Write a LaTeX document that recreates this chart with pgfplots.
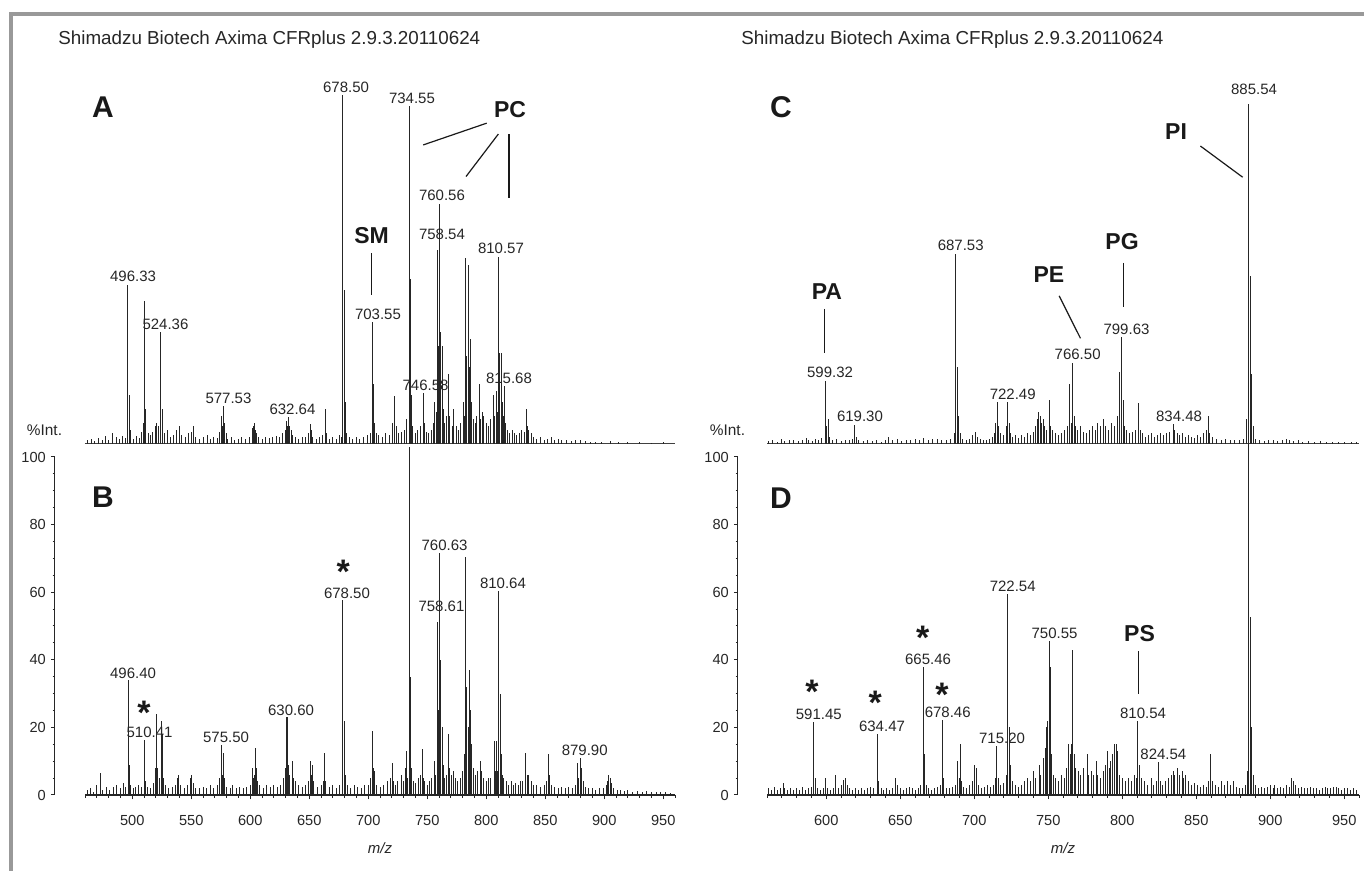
\documentclass[border=0pt]{standalone}
\usepackage{fontspec}
\setmainfont{Liberation Sans}
\usepackage{pgfplots}
\pgfplotsset{compat=1.18}
\pgfplotsset{
  spec/.style={scale only axis, clip=false, ymin=0, ymax=100, anchor=south west},
  pk/.style={ycomb, no markers, black!85, line width=0.45pt},
  yax/.style={scale only axis, anchor=south west, width=1pt, height=169pt,
    xmin=0, xmax=1, ymin=0, ymax=100, axis x line=none, axis y line*=left,
    ytick={0,20,...,100}, minor ytick={0,5,...,100}, tick align=outside,
    major tick length=1.8pt, minor tick length=1pt,
    axis line style={black!85, line width=0.6pt}, tick style={black!85, line width=0.5pt},
    /pgf/number format/assume math mode=true,
    yticklabel style={font=\fontsize{7.3}{8}\selectfont, text=black!85, xshift=1pt}},
  xax/.style={axis x line*=bottom, axis y line=none, tick align=outside,
    major tick length=2.2pt, minor tick length=1.5pt,
    axis line style={black!85, line width=0.7pt}, tick style={black!85, line width=0.5pt},
    /pgf/number format/assume math mode=true, xticklabel shift=4.5pt,
    xticklabel style={font=\fontsize{7.3}{8}\selectfont, text=black!85}},
}
\tikzset{
  lbl/.style={font=\fontsize{7.5}{8}\selectfont, inner sep=0pt, text=black!85},
  big/.style={font=\fontsize{15}{16}\selectfont\bfseries, inner sep=0pt, text=black!90},
  cls/.style={font=\fontsize{11.5}{12}\selectfont\bfseries, inner sep=0pt, text=black!90},
  star/.style={font=\fontsize{17}{18}\selectfont\bfseries, inner sep=0pt, text=black!90, yshift=-2.5pt},
  ann/.style={black!90, line width=0.6pt},
}
\begin{document}
\begin{tikzpicture}
\path[use as bounding box] (0,0) rectangle (682pt,435.5pt);
\draw[black!40, line width=2pt] (5.25pt,0pt) -- (5.25pt,428.6pt) -- (682pt,428.6pt);
\node[anchor=west, inner sep=0pt, font=\fontsize{9.4}{11}\selectfont, text=black!85] at (29pt,415.5pt) {Shimadzu Biotech Axima CFRplus 2.9.3.20110624};
\node[anchor=west, inner sep=0pt, font=\fontsize{9.4}{11}\selectfont, text=black!85] at (370.5pt,415.5pt) {Shimadzu Biotech Axima CFRplus 2.9.3.20110624};
\node[font=\fontsize{7.7}{8}\selectfont, text=black!85] at (22.25pt,220.5pt) {\%Int.};
\node[font=\fontsize{7.7}{8}\selectfont, text=black!85] at (363.75pt,220.5pt) {\%Int.};

% ---------------- Panel A ----------------
\begin{axis}[spec, at={(42.5pt,213.5pt)}, width=295pt, height=175.5pt, xmin=460, xmax=960, axis lines=none]
\addplot[black!75, line width=0.4pt] coordinates {(460,0.3) (960,0.3)};
\addplot[pk] coordinates {
(462,1.2) (465.5,1.5) (468,0.8) (471,1.6) (474.5,1.0) (477,2.2) (480,1.2) (483.5,3.2) (486.5,2.0) (489,1.4) (492,2.4) (494.5,1.8)
(496.33,45.3) (497.33,14) (498.3,4) (501,1.5) (503.5,2.3) (506,1.8) (507.6,3.5) (509.4,6) (510.4,40.7) (511.4,10)
(513.5,3) (515.5,2.5) (517.5,3.5) (519.5,5) (520.5,6) (522.3,5) (524.36,31.9) (525.36,10) (527,3) (529.5,4) (532,2)
(535,2.5) (537.6,4) (539.8,5) (542,2.5) (545,2) (548,3) (550.5,3.5) (551.8,5) (554,2) (557,1.5) (560,2) (563.5,2.5)
(566,1.5) (569,2) (572,1.8) (574,3.5) (575.5,8) (576.5,5) (577.53,10.8) (578.5,6) (579.5,3) (581,1.5) (584,2) (587,1.2)
(590,1.5) (593,2) (596,1.4) (599,2) (601.5,4.5) (602.5,5) (603.5,6) (604.5,4) (605.5,3) (607,2) (610,1.5) (613,2)
(616,1.7) (619,2) (622,2.3) (625,2) (627.5,3) (629.5,4) (630.6,6.5) (631.6,5) (632.64,7.7) (633.6,5) (634.6,4) (636,2.5)
(638,2) (641,1.5) (644,2) (647,2) (649.5,3) (650.7,5.7) (651.7,4) (653,2) (656,1.5) (659,2) (661.5,2.5) (663.4,10)
(664.4,3) (667,1.5) (670,2) (673,1.5) (675.5,2.5) (677,2) (678.5,99.4) (679.5,44) (680.5,12) (681.5,3) (684,2) (687,1.5)
(690,2) (693,1.5) (696,2) (699,2.5) (701.5,3) (703.55,34.8) (704.55,17) (705.55,6) (706.6,3) (709,2.5) (712,2) (715,3)
(718,2.5) (720.5,6) (722.6,13.7) (723.6,5) (725.5,3) (728,3.5) (730.5,4) (732.5,7) (734.55,96.3) (735.55,47) (736.55,14)
(737.6,5) (740,3) (742,4) (744.5,5) (746.58,14.5) (747.6,6) (749,3.5) (751,3) (753.5,4) (755,6) (756.5,12) (757.5,9)
(758.54,55.3) (759.55,28) (760.56,68.4) (761.56,32) (762.57,28) (763.57,10) (765,6) (766.5,8) (768.2,20) (769.2,8)
(771,5) (772.5,10) (774.5,5) (776.5,4) (778.5,6) (780.5,12) (781.5,8) (782.57,53) (783.58,25) (784.58,51) (785.59,22)
(786.6,30) (787.6,12) (789,7) (790.5,6) (792,8) (794,17) (795,7) (796.5,9) (798,8) (800,6) (802,5) (804,7) (805.8,14)
(807,8) (808.6,15) (809.6,9) (810.57,53.3) (811.57,26) (812.6,26) (813.6,12) (814.6,8) (815.68,16.5) (816.7,6) (818,4)
(820,3) (822,4) (824,3) (826,2.5) (828,3) (830,4) (832,3.5) (833.7,10) (834.7,5) (836,4) (838,3) (840,2) (843,1.5)
(846,2) (849,1.2) (852,1.5) (855,2) (858,1.2) (861,1.5) (864,1) (868,1.2) (872,0.8) (876,1) (880,1.2) (884,0.8)
(888,0.6) (893,0.7) (898,0.5) (905,0.8) (912,0.5) (920,0.6) (930,0.5) (940,0.4) (950,0.5)
};
\node[big] at (axis cs:475.3,96.0) {A};
\node[lbl] at (axis cs:681.2,101.7) {678.50};
\node[lbl] at (axis cs:737.1,98.6) {734.55};
\node[lbl] at (axis cs:762.5,70.7) {760.56};
\node[lbl] at (axis cs:762.5,59.8) {758.54};
\node[lbl] at (axis cs:812.5,55.6) {810.57};
\node[lbl] at (axis cs:708.3,36.8) {703.55};
\node[lbl] at (axis cs:748.6,16.8) {746.58};
\node[lbl] at (axis cs:819.3,18.8) {815.68};
\node[lbl] at (axis cs:500.7,47.9) {496.33};
\node[lbl] at (axis cs:528.2,34.2) {524.36};
\node[lbl] at (axis cs:581.6,13.1) {577.53};
\node[lbl] at (axis cs:635.8,10.0) {632.64};
\node[cls] at (axis cs:820.2,95.2) {PC};
\draw[ann] (axis cs:800.4,91.4) -- (axis cs:746.6,85.2);
\draw[ann] (axis cs:810.3,88.3) -- (axis cs:782.9,76.2);
\draw[ann] (axis cs:819.3,88.3) -- (axis cs:819.3,70.0);
\node[cls] at (axis cs:702.8,59.5) {SM};
\draw[ann] (axis cs:703,54.4) -- (axis cs:703,42.5);
\end{axis}

% ---------------- Panel B ----------------
\begin{axis}[yax, at={(27.25pt,38pt)}]
\addplot[draw=none] coordinates {(0,0)};
\end{axis}
\begin{axis}[spec, xax, at={(42.5pt,38pt)}, width=295pt, height=169pt, xmin=460, xmax=960,
  xtick={500,550,...,950}, minor xtick={460,470,...,960}]
\addplot[pk] coordinates {
(462,1.5) (465,2) (467,1) (470,3) (472.8,6.5) (475,1.5) (478,2.5) (481,1.5) (484,2.5) (487,3) (490,2) (492.5,3.5)
(494.5,2.5) (496.4,34) (497.4,9) (498.4,3) (501,2) (503,2.5) (505.5,3) (508,2.5) (510.41,16.3) (511.4,4) (513,2.5)
(515.5,2) (518,3.5) (519.7,8) (520.7,24) (521.7,8) (523,5) (524.4,22) (525.4,18) (526.4,5) (528,3) (531,2) (534,2.5)
(537,3) (538.5,5) (539.5,6) (541,3) (544,2) (547,3) (549,5) (550.3,6) (551.5,3.5) (554,2) (557,2) (560,2.5) (563,2)
(566,3) (569,2) (572,3) (574,5) (575.5,14.8) (576.5,6) (577.5,12.5) (578.5,5) (580,2.5) (583,2) (585,3) (588,2)
(591,2.5) (594,2) (597,2.5) (600,3) (601.7,8) (602.7,5) (603.7,6) (604.5,14) (605.5,8) (606.5,4) (608,3) (611,2)
(614,3) (617,2.5) (620,3) (623,2.5) (626,3) (628.5,5) (629.5,8) (630.6,23) (631.6,23) (632.6,9) (633.6,6) (635.7,10)
(636.7,5) (638.5,4) (641,3) (644,2.5) (647,3) (649.5,4) (650.7,10) (651.7,6) (653,9) (654,4) (657,2.5) (660,3)
(662,4) (663,12.5) (664,4) (667,2.5) (670,3) (673,2) (676,3) (678.5,57.7) (679.5,22) (680.5,6) (682,3) (685,2)
(688,3) (691,2.5) (694,2) (697,3) (700,3) (702,5) (703.5,19) (704.5,8) (705.5,7) (707,3) (710,2.5) (713,3) (716,4)
(718.5,5) (720.2,9.5) (721.2,4) (723,3) (725,4) (727.8,6) (730,4) (731.5,8) (732.4,13) (733.4,5) (734.55,103)
(735.55,35) (736.55,8) (738,4) (740,3.5) (742.5,5) (744.5,6) (745.6,13.6) (746.6,5) (748,4) (750,3) (752,4) (754,5)
(755.8,10) (756.8,6) (758.61,51.2) (759.6,25) (760.63,71.6) (761.6,40) (762.6,20) (763.6,9) (765,5) (766.5,6)
(768.2,18) (769.2,8) (770.5,6) (772,7) (774,5) (776,4) (778,5) (780,7) (781.5,12) (782.57,70.4) (783.4,32) (784.6,20)
(785.8,37) (786.8,25) (787.8,15) (789,8) (791,6) (792.5,7) (794.7,10) (796,7) (798,5) (800,4) (802,5) (804,5)
(806.6,16) (807.6,7) (808.3,16) (809.5,7) (810.64,60.4) (811.7,30) (812.7,12) (813.7,6) (815,5) (817,4) (819,3)
(821,4) (823,3) (825,3.5) (827,3) (829,4) (831,4) (833.6,12.5) (834.6,6) (836,6) (838,4) (840,3) (843,3) (846,2.5)
(849,3) (851,4) (852.4,12) (853.4,6) (855,3) (858,2.5) (861,2) (864,2.5) (867,2) (870,2.5) (873,2) (875.5,3)
(877,9.5) (878,5) (879.9,10.9) (880.9,8) (882,4) (884,2.5) (887,2) (890,2) (893,1.5) (896,2) (899,2) (901.5,3)
(903,4) (904,6) (905,5) (906.5,3.5) (908,2) (911,1.5) (914,1.5) (917,1.2) (920,1.5) (924,1) (928,1.2) (932,1)
(936,1.2) (940,0.8) (944,1) (948,0.8) (952,1) (956,0.7)
};
\node[big] at (axis cs:475.3,88.0) {B};
\node[lbl] at (axis cs:682.0,59.8) {678.50};
\node[lbl] at (axis cs:500.7,36.1) {496.40};
\node[lbl] at (axis cs:514.7,18.6) {510.41};
\node[lbl] at (axis cs:579.5,17.2) {575.50};
\node[lbl] at (axis cs:634.6,24.9) {630.60};
\node[lbl] at (axis cs:764.7,74.0) {760.63};
\node[lbl] at (axis cs:814.2,62.7) {810.64};
\node[lbl] at (axis cs:762.1,55.9) {758.61};
\node[lbl] at (axis cs:883.5,13.3) {879.90};
\node[star] at (axis cs:678.9,67.5) {*};
\node[star] at (axis cs:510,25.7) {*};
\node[font=\fontsize{7.5}{8}\selectfont\itshape, text=black!85] at (rel axis cs:0.5,0) [yshift=-26.5pt] {m/z};
\end{axis}

% ---------------- Panel C ----------------
\begin{axis}[spec, at={(383.5pt,213.5pt)}, width=296pt, height=175.5pt, xmin=560, xmax=960, axis lines=none]
\addplot[black!75, line width=0.4pt] coordinates {(560,0.3) (960,0.3)};
\addplot[pk] coordinates {
(561,0.8) (564,1) (567,0.7) (570,1.5) (572,0.8) (575,1) (578,1.2) (581,0.8) (584,1) (586.5,1.8) (588,1) (591,0.8)
(593,1.5) (595,1) (597,1.8) (599.32,18) (600.32,5) (601.3,7) (602.3,2) (604,1) (607,1.3) (610,0.8) (613,1) (616,1.2)
(617.5,1.5) (619.3,5.4) (620.3,2) (622,1) (625,0.8) (628,1) (631,0.8) (634,1) (637,0.7) (640,1.2) (642.3,2) (645,1)
(648,1.3) (651,0.8) (654,1) (657,1.2) (660,1.5) (663,1) (666,1.8) (669,1) (672,1.3) (675,1.5) (678,1.2) (681,1)
(684,1.5) (686.5,3) (687.53,54) (688.53,22) (689.5,8) (690.5,3) (692,1.5) (695,1) (697,1.5) (699,2.5) (700.8,3.4)
(702,2) (704,1.5) (706,1.2) (708,1) (710,1.5) (712,2) (713.5,3) (714.5,6) (715.5,12) (716.5,5) (718,3) (720,2.5)
(721.5,5) (722.49,12) (723.5,6) (724.5,3) (726,2) (728,2.5) (730,1.8) (732,2.5) (734,2) (736,3) (738,2.5) (740,3.5)
(741.5,5) (742.4,7) (743.6,9) (744.6,8) (745.6,6) (746.6,7) (747.6,5) (749,4) (750.7,12.5) (751.7,5) (753,4) (755,3)
(757,2.5) (759,3) (761,4) (763,5) (764.5,17) (765.5,6) (766.5,23) (767.5,8) (768.5,5) (770,4) (772,5) (774,3.5)
(776,3) (778,4) (780,5) (782,4) (783.6,6) (785,5) (787,7) (789,5) (791,4) (793,6) (795,5) (797,8) (798.2,20.5)
(799.63,30.5) (800.6,12.5) (801.6,5) (803,4) (805,3) (807,3.5) (809,4) (811.2,11.7) (812.2,4) (814,3) (816,2)
(818,2.5) (820,3) (822,2) (824,2.5) (826,3) (828,2.5) (830,3) (832,3.5) (834.48,5.7) (835.5,4) (837,3) (839,2.5)
(841,3) (843,2) (845,2.5) (847,2) (849,1.8) (851,2.5) (853,2) (855,3) (857,4) (858,8) (859,3) (861,2) (864,1.5)
(867,1.2) (870,1.5) (873,1) (876,1.2) (879,1) (882,1.5) (884,7) (885.54,97) (886.54,48) (887.54,20) (888.5,5)
(890,1.5) (893,1) (896,0.8) (899,1) (902,1.2) (905,0.8) (908,1) (911,1.5) (913,1.2) (916,0.8) (919,1) (922,0.7)
(926,0.8) (930,0.6) (934,0.8) (938,0.6) (942,0.7) (946,0.5) (950,0.6) (955,0.5) (958,0.5)
};
\node[big] at (axis cs:569.5,96.0) {C};
\node[lbl] at (axis cs:889.1,101.1) {885.54};
\node[lbl] at (axis cs:690.9,56.5) {687.53};
\node[lbl] at (axis cs:602.6,20.3) {599.32};
\node[lbl] at (axis cs:622.8,7.8) {619.30};
\node[lbl] at (axis cs:726.0,14.2) {722.49};
\node[lbl] at (axis cs:769.9,25.4) {766.50};
\node[lbl] at (axis cs:802.9,32.7) {799.63};
\node[lbl] at (axis cs:838.4,8.0) {834.48};
\node[cls] at (axis cs:836.4,89.0) {PI};
\draw[ann] (axis cs:852.8,84.9) -- (axis cs:881.4,76.0);
\node[cls] at (axis cs:799.9,57.7) {PG};
\draw[ann] (axis cs:801.1,51.6) -- (axis cs:801.1,39.0);
\node[cls] at (axis cs:750.5,48.3) {PE};
\draw[ann] (axis cs:757.4,42.2) -- (axis cs:771.8,30.1);
\node[cls] at (axis cs:600.5,43.3) {PA};
\draw[ann] (axis cs:598.9,38.5) -- (axis cs:598.9,25.9);
\end{axis}

% ---------------- Panel D ----------------
\begin{axis}[yax, at={(368.75pt,38pt)}]
\addplot[draw=none] coordinates {(0,0)};
\end{axis}
\begin{axis}[spec, xax, at={(383.5pt,38pt)}, width=296pt, height=169pt, xmin=560, xmax=960,
  xtick={600,650,...,950}, minor xtick={560,570,...,960}]
\addplot[pk] coordinates {
(561,2) (563,1.5) (565,2.5) (567,1.5) (569,2) (571,3.5) (572,2) (574,1.5) (576,2) (578,1.5) (580,2) (582,1.5)
(584,2.5) (586,1.5) (588,2) (590,2.5) (591.45,21.6) (592.45,5) (594,2) (596,1.5) (598,2) (599.7,5) (601,2) (603,1.5)
(605,2) (606.4,6) (608,2) (610,3) (611.6,4.5) (613,5) (614.5,3) (616,2) (618,1.5) (620,2) (622,1.5) (624,2) (626,1.5)
(628,2) (630,2.5) (632,2) (634.47,18) (635.5,4) (637,2) (639,1.5) (641,2) (643,1.5) (645,2) (646.6,5) (648,3) (650,2)
(652,1.5) (654,2) (656,2.5) (658,2) (660,1.5) (662,2) (664,3) (665.46,37.9) (666.46,12) (667.5,3) (669,2) (671,1.5)
(673,2) (675,2.5) (677,3) (678.46,22.2) (679.5,5) (681,2) (683,2) (685,2.5) (687,3) (688.7,10) (689.7,5) (690.5,15)
(691.5,4) (693,2.5) (695,2) (697,3) (699,4) (700.3,9) (701.6,8) (703,3) (705,2) (707,2.5) (709,3) (711,2.5) (713,3)
(714.5,5) (715.2,14.5) (716.5,5) (718,3) (720,3.5) (721.5,6) (722.54,59.5) (723.5,20) (724.7,9) (726,4) (728,3)
(730,2.5) (732,3) (734,4) (736,5) (738,4) (740.2,7) (741.5,5) (743.8,9) (745,6) (746.8,11) (747.8,14) (748.6,20)
(749.5,22) (750.55,45.6) (751.5,38) (752.5,12) (753.5,6) (755,5) (757,4) (759,6) (761,5) (762.5,8) (763.7,15)
(764.7,12) (765.7,15) (766.5,43) (767.5,12) (768.5,8) (770.6,7) (772,6) (774,8) (776.4,12) (777.5,6) (779,7)
(780.5,6) (782.3,10) (783.5,6) (785,5) (787,7) (788.5,9) (790.3,13) (791.3,8) (792.3,10) (793.5,12) (794.5,15)
(795.8,15) (796.8,13) (798,6) (800,5) (802,4) (804,5) (806,4) (808,6) (809.5,5) (810.54,21.9) (811.5,9) (813,5)
(815,4) (817,3) (819.6,5) (821,3) (823,4) (824.54,9.8) (825.5,4) (827,3) (829,4) (831,5) (833,6) (834.5,7) (835.5,6)
(837,8) (838.5,6) (840.4,7) (841.5,5) (843,6) (845,4) (847,3) (849,3.5) (851,3) (853,2.5) (855,3) (857,2.5)
(858.5,4) (859.9,12) (861,4) (863,3) (865,2.5) (867,4) (869,3) (871,4) (873,3) (875,4) (877,2.5) (879,2) (881,2)
(883,3) (884.5,7) (885.54,104) (886.54,52.7) (887.5,20) (888.5,6) (890,3) (892,2) (894,2.5) (896,2) (898,2.5)
(900,3) (902,2) (903,3) (905,2) (907,2.5) (909,2) (911,3) (913,2.5) (914.4,5) (915.5,4) (917,3) (919,2) (921,2.5)
(923,2) (925,2) (927,2.5) (929,2) (931,2) (933,1.5) (935,2) (937,2.5) (939,2) (941,2) (943,2.5) (944.5,2.5)
(946,2) (948,1.5) (950,2) (952,2) (954,1.5) (956,2) (958,1.5)
};
\node[big] at (axis cs:569.5,87.9) {D};
\node[lbl] at (axis cs:726.0,61.8) {722.54};
\node[lbl] at (axis cs:754.3,47.9) {750.55};
\node[lbl] at (axis cs:668.8,40.2) {665.46};
\node[lbl] at (axis cs:595.0,24.0) {591.45};
\node[lbl] at (axis cs:637.7,20.4) {634.47};
\node[lbl] at (axis cs:682.1,24.6) {678.46};
\node[lbl] at (axis cs:814.1,24.3) {810.54};
\node[lbl] at (axis cs:718.8,16.9) {715.20};
\node[lbl] at (axis cs:827.8,12.1) {824.54};
\node[star] at (axis cs:665.2,47.9) {*};
\node[star] at (axis cs:590.4,32.0) {*};
\node[star] at (axis cs:633.2,28.7) {*};
\node[star] at (axis cs:678.2,31.1) {*};
\node[cls] at (axis cs:811.7,47.9) {PS};
\draw[ann] (axis cs:811.2,42.6) -- (axis cs:811.2,29.9);
\node[font=\fontsize{7.5}{8}\selectfont\itshape, text=black!85] at (rel axis cs:0.5,0) [yshift=-26.5pt] {m/z};
\end{axis}
\end{tikzpicture}
\end{document}
